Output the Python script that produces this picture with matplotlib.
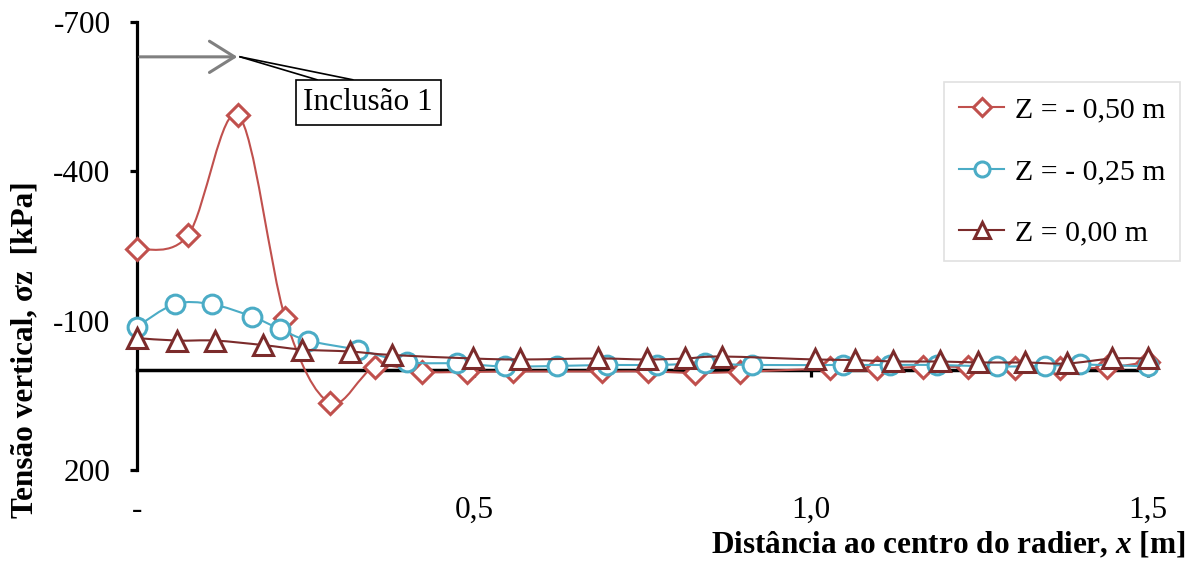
import numpy as np
import matplotlib
matplotlib.use("Agg")
import matplotlib.pyplot as plt
from matplotlib.path import Path
from matplotlib.patches import PathPatch
from matplotlib.transforms import blended_transform_factory

# Vertical stress profiles (kPa) vs distance to raft centre (m)
x_050 = [0.0, 0.076, 0.150, 0.220, 0.286, 0.353, 0.423, 0.490, 0.558, 0.690, 0.758,
         0.828, 0.895, 1.028, 1.098, 1.166, 1.233, 1.303, 1.369, 1.439, 1.500]
s_050 = [-243, -272, -513, -105, 65, -7, 3, 3, 2, 2, 2,
         5, 3, -4, -4, -7, -7, -4, -4, -6, -17]

x_025 = [0.0, 0.056, 0.111, 0.171, 0.212, 0.254, 0.328, 0.401, 0.475, 0.546, 0.623,
         0.697, 0.772, 0.843, 0.912, 1.047, 1.117, 1.187, 1.276, 1.347, 1.399, 1.500]
s_025 = [-88, -133, -133, -108, -83, -60, -41, -17, -14, -8, -9,
         -11, -11, -14, -11, -11, -11, -11, -8, -9, -12, -8]

x_000 = [0.0, 0.059, 0.116, 0.187, 0.245, 0.316, 0.378, 0.499, 0.568, 0.684, 0.757,
         0.813, 0.868, 1.006, 1.065, 1.122, 1.191, 1.248, 1.317, 1.380, 1.447, 1.500]
s_000 = [-65, -60, -60, -51, -42, -38, -31, -24, -22, -24, -22,
         -24, -28, -22, -21, -18, -18, -16, -16, -14, -24, -24]

labels = ["Z = - 0,50 m", "Z = - 0,25 m", "Z = 0,00 m"]
colors = ["#C0504D", "#4BACC6", "#7B2B2B"]
markers = ["D", "o", "^"]
msizes = [11.5, 13.5, 14]

xticks = [0.0, 0.5, 1.0, 1.5]
xticklabels = ["-", "0,5", "1,0", "1,5"]
yticks = [-700, -400, -100, 200]

plt.rcParams["font.family"] = ["Liberation Serif", "DejaVu Serif"]
plt.rcParams["font.size"] = 22.5
plt.rcParams["mathtext.fontset"] = "custom"
plt.rcParams["mathtext.it"] = "Liberation Serif:italic:bold"
plt.rcParams["mathtext.rm"] = "Liberation Serif:bold"


def smooth_path(xs, ys):
    # Excel-like smoothed line: Catmull-Rom as cubic Bezier segments
    pts = np.column_stack([xs, ys]).astype(float)
    n = len(pts)
    verts = [pts[0]]
    codes = [Path.MOVETO]
    for i in range(n - 1):
        p0 = pts[i - 1] if i > 0 else pts[i]
        p1 = pts[i]
        p2 = pts[i + 1]
        p3 = pts[i + 2] if i + 2 < n else pts[i + 1]
        c1 = p1 + (p2 - p0) / 6.0
        c2 = p2 - (p3 - p1) / 6.0
        verts += [c1, c2, p2]
        codes += [Path.CURVE4] * 3
    return Path(verts, codes)


fig = plt.figure(figsize=(11.95, 5.63), dpi=100)
ax = fig.add_axes([137 / 1195, 1 - 470 / 563, (1148 - 137) / 1195, (470 - 22) / 563])

series = [(x_050, s_050), (x_025, s_025), (x_000, s_000)]
handles = []
for (xs, ys), lab, c, m, ms in zip(series, labels, colors, markers, msizes):
    ax.add_patch(PathPatch(smooth_path(xs, ys), facecolor="none", edgecolor=c,
                           lw=1.5, zorder=3, clip_on=False))
    ax.plot(xs, ys, linestyle="none", marker=m, ms=ms, mfc="white", mec=c,
            mew=2.2, zorder=3, clip_on=False)
    h, = ax.plot([], [], color=c, lw=1.5, marker=m, ms=ms * 0.8, mfc="white",
                 mec=c, mew=2.2, label=lab)
    handles.append(h)

ax.set_xlim(0, 1.5)
ax.set_ylim(200, -700)

for side in ["top", "right"]:
    ax.spines[side].set_visible(False)
ax.spines["left"].set_linewidth(2.3)
ax.spines["bottom"].set_linewidth(2.5)
ax.spines["bottom"].set_position(("data", 0))

ax.set_yticks(yticks)
ax.set_yticklabels([str(v) for v in yticks])
ax.tick_params(axis="y", direction="out", length=5, width=2.3, pad=14)
ax.set_xticks(xticks[1:])
ax.tick_params(axis="x", direction="out", length=5, width=2.3, labelbottom=False)

trans = blended_transform_factory(ax.transData, fig.transFigure)
for xv, lab in zip(xticks, xticklabels):
    ax.text(xv, 1 - 510 / 563, lab, transform=trans, ha="center", va="center")

fig.text(1185 / 1195, 1 - 545 / 563, r"Distância ao centro do radier, $x$ [m]",
         ha="right", va="center", fontweight="bold")
fig.text(25 / 1195, 1 - 350 / 563, "Tensão vertical, σz  [kPa]", rotation=90,
         ha="center", va="center", fontweight="bold")

# Inclusion annotation
ax.annotate("", xy=(0.153, -630), xytext=(0.0, -630),
            arrowprops=dict(arrowstyle="->,head_length=0.8,head_width=0.5",
                            color="#808080", lw=2.2), zorder=4)
ax.plot([0.153, 0.267], [-630, -584], color="black", lw=1.2, zorder=4)
ax.plot([0.153, 0.320], [-630, -584], color="black", lw=1.2, zorder=4)
ax.text(0.343, -538, "Inclusão 1", ha="center", va="center", zorder=5,
        bbox=dict(boxstyle="square,pad=0.25", fc="white", ec="black", lw=1.2))

leg = ax.legend(handles=handles, loc="upper right",
                bbox_to_anchor=(1180 / 1195, 1 - 82 / 563),
                bbox_transform=fig.transFigure, borderaxespad=0,
                frameon=True, fancybox=False, edgecolor="#D9D9D9",
                labelspacing=1.15, handlelength=1.5, handletextpad=0.35,
                borderpad=0.5, fontsize=21.5)
leg.get_frame().set_linewidth(1.2)

fig.savefig("out.png", dpi=100)
